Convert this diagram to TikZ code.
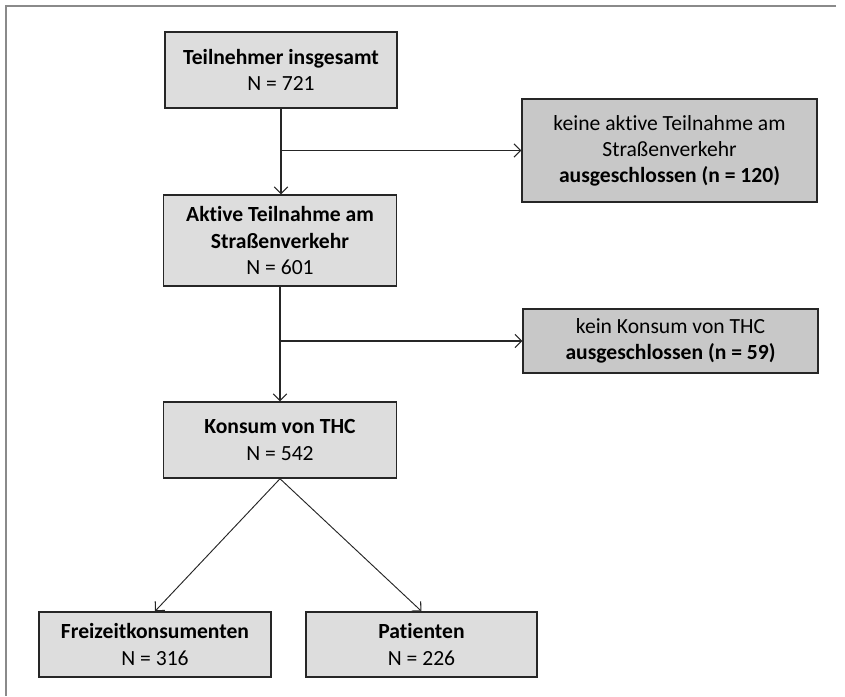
\documentclass[tikz,border=0pt]{standalone}
\usepackage{fontspec}
\setmainfont{Carlito}[Ligatures=NoCommon]
\usetikzlibrary{positioning,calc,arrows.meta}
\definecolor{kastengrau}{HTML}{DDDDDD}
\definecolor{ausschlussgrau}{HTML}{C8C8C8}
\definecolor{randgrau}{HTML}{8A8A8A}
\tikzset{
  kasten/.style={rectangle, draw=black!85, line width=1.1pt, fill=kastengrau, align=center, inner sep=2pt, font=\fontsize{16.2pt}{19.6pt}\selectfont},
  ausschluss/.style={kasten, fill=ausschlussgrau, minimum width=221pt},
  pfeil/.style={draw=black!85, line width=0.9pt, -{Straight Barb[length=5pt,width=10pt,line width=0.8pt]}}
}

\begin{document}
\begin{tikzpicture}[x=0.75pt, y=-0.75pt]
       \useasboundingbox (0,0) rectangle (845,696);
       \draw [randgrau, line width=1.4pt] (836,6) -- (6,6) -- (6,696);

       \node [kasten, minimum width=174pt, minimum height=57pt]  at (281,70)  (teilnehmer)
       {\textbf{Teilnehmer insgesamt}\\N = 721};
       \node [kasten, minimum width=174.75pt, minimum height=68.25pt]  at (280,240.5)  (aktiv)
       {\textbf{Aktive Teilnahme am}\\\textbf{Straßenverkehr}\\N = 601};
       \node [kasten, minimum width=174.75pt, minimum height=57pt]  at (280,440)  (konsum)
       {\textbf{Konsum von THC}\\N = 542};
       \node [kasten, minimum width=174pt, minimum height=48.75pt]  at (155,644.5)  (freizeit)
       {\textbf{Freizeitkonsumenten}\\N = 316};
       \node [kasten, minimum width=173.25pt, minimum height=48.75pt]  at (421.5,644.5)  (patienten)
       {\textbf{Patienten}\\N = 226};

       \node [ausschluss, minimum height=77.25pt]  at (669.5,150.5)  (keineaktiv)
       {keine aktive Teilnahme am\\Straßenverkehr\\\textbf{ausgeschlossen (n = 120)}};
       \node [ausschluss, minimum height=48pt]  at (670.5,341)  (keinkonsum)
       {kein Konsum von THC\\\textbf{ausgeschlossen (n = 59)}};

       \coordinate (abzweig1) at (teilnehmer.south |- keineaktiv.west);
       \coordinate (abzweig2) at (aktiv.south |- keinkonsum.west);

       \draw [pfeil] (teilnehmer.south) -- (teilnehmer.south |- aktiv.north);
       \draw [pfeil] (abzweig1) -- (keineaktiv.west);
       \draw [pfeil] (aktiv.south) -- (konsum.north);
       \draw [pfeil] (abzweig2) -- (keinkonsum.west);
       \draw [pfeil, line width=0.7pt] (konsum.south) -- (freizeit.north);
       \draw [pfeil, line width=0.7pt] (konsum.south) -- (patienten.north);
    \end{tikzpicture}
\end{document}
